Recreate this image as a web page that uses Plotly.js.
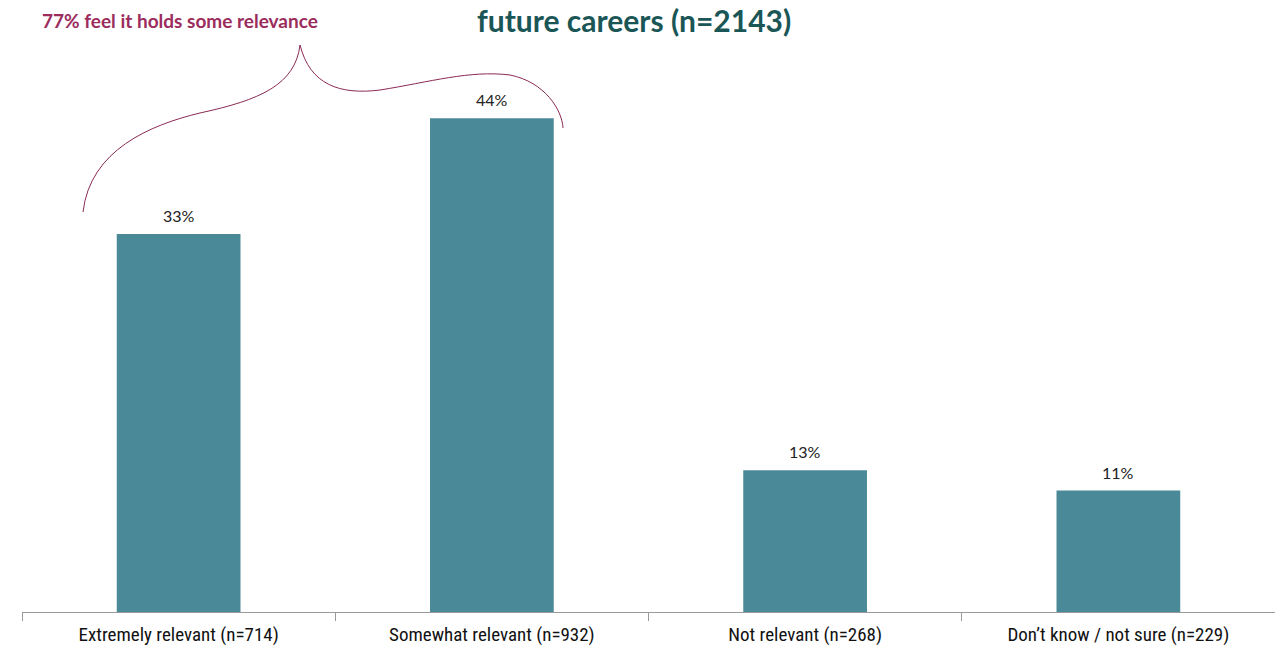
<!DOCTYPE html>
<html>
<head>
<meta charset="utf-8">
<script src="https://cdn.plot.ly/plotly-3.0.1.min.js"></script>
<style>html,body{margin:0;padding:0;background:#fff;}#chart{width:1275px;height:650px;}</style>
</head>
<body>
<div id="chart"></div>
<script>
const categories = ["Extremely relevant (n=714)", "Somewhat relevant (n=932)", "Not relevant (n=268)", "Don\u2019t know / not sure (n=229)"];
const percentValues = [33.3, 43.5, 12.5, 10.7];
const percentLabels = ["33%", "44%", "13%", "11%"];
const titleText = "future careers (n=2143)";
const braceText = "77% feel it holds some relevance";

const W = 1275, H = 650;
const M = {l: 22, r: 0, t: 48, b: 38};
const pw = W - M.l - M.r, ph = H - M.t - M.b;
function px(x){ return ((x - M.l) / pw).toFixed(4); }
function py(y){ return ((H - M.b - y) / ph).toFixed(4); }
function P(x, y){ return px(x) + "," + py(y); }

const bracePath = "M" + P(83, 212) +
  " C" + P(90, 150) + " " + P(150, 125) + " " + P(200, 113) +
  " C" + P(260, 100) + " " + P(295, 85) + " " + P(300, 45) +
  " C" + P(310, 85) + " " + P(340, 95) + " " + P(380, 90) +
  " C" + P(430, 82) + " " + P(470, 70) + " " + P(510, 75) +
  " C" + P(545, 82) + " " + P(562, 110) + " " + P(563, 128);

const trace = {
  type: "bar",
  x: categories,
  y: percentValues,
  marker: {color: "#4a8a98"},
  hoverinfo: "skip"
};

const labelAnnotations = categories.map((c, i) => ({
  x: c, y: percentValues[i], xref: "x", yref: "y",
  text: percentLabels[i], showarrow: false,
  xanchor: "center", yanchor: "bottom", yshift: 7,
  font: {family: "Lato, 'Open Sans', sans-serif", size: 16, color: "#222"}
}));

const layout = {
  width: W, height: H,
  margin: M,
  paper_bgcolor: "#fff",
  plot_bgcolor: "#fff",
  bargap: 0.605,
  showlegend: false,
  xaxis: {
    type: "category",
    showline: true, linecolor: "#9a9a9a", linewidth: 1,
    ticks: "outside", tickson: "boundaries", ticklen: 8, tickcolor: "#9a9a9a",
    ticklabelstandoff: 5,
    tickfont: {family: "'Liberation Sans Narrow', 'Roboto Condensed', Lato, sans-serif", size: 19, color: "#111"},
    showgrid: false, zeroline: false, fixedrange: true
  },
  yaxis: {
    range: [0, 49.7],
    visible: false, showgrid: false, zeroline: false, fixedrange: true
  },
  shapes: [{
    type: "path", xref: "paper", yref: "paper",
    path: bracePath,
    line: {color: "#8a2a55", width: 1}
  }],
  annotations: [
    {
      text: "<b>" + titleText + "</b>",
      xref: "paper", yref: "paper",
      x: px(634), y: py(0), xanchor: "center", yanchor: "top",
      showarrow: false,
      font: {family: "Lato, 'Open Sans', sans-serif", size: 30, color: "#1b5657"}
    },
    {
      text: "<b>" + braceText + "</b>",
      xref: "paper", yref: "paper",
      x: px(40), y: py(21), xanchor: "left", yanchor: "middle",
      showarrow: false,
      font: {family: "Lato, 'Open Sans', sans-serif", size: 19, color: "#9b2c5c"}
    }
  ].concat(labelAnnotations)
};

Plotly.newPlot("chart", [trace], layout, {displayModeBar: false, staticPlot: true});
</script>
</body>
</html>
